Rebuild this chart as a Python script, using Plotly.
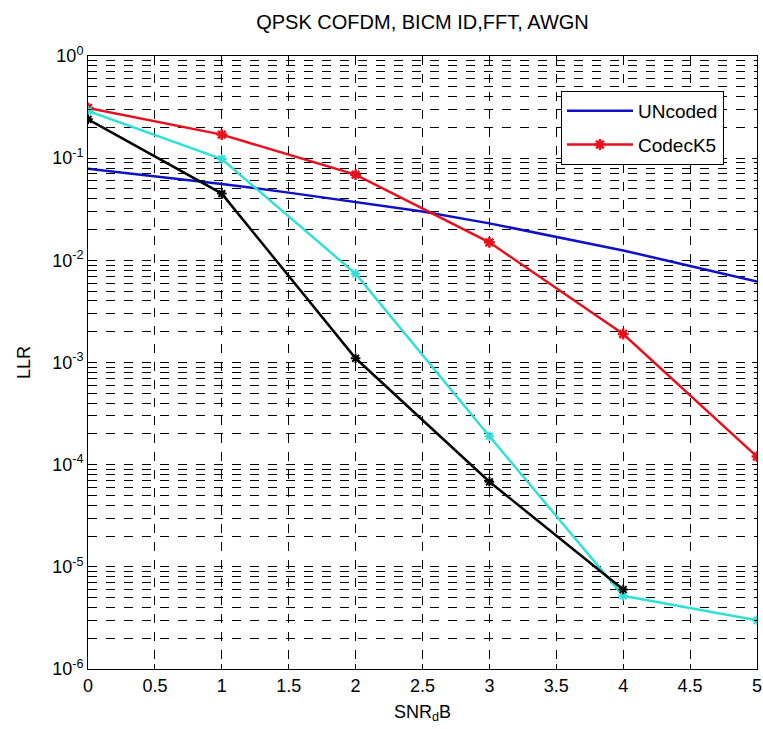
import plotly.graph_objects as go

snr_uncoded = [0, 0.5, 1, 1.5, 2, 2.5, 3, 3.5, 4, 4.5, 5]
ber_uncoded = [0.079, 0.067, 0.056, 0.046, 0.037, 0.030, 0.023, 0.017, 0.0125, 0.0088, 0.0062]

snr_k5 = [0, 1, 2, 3, 4, 5]
ber_k5 = [0.31, 0.17, 0.069, 0.015, 0.0019, 0.00012]

snr_cyan = [0, 1, 2, 3, 4, 5]
ber_cyan = [0.29, 0.098, 0.0074, 0.00019, 0.0000052, 0.0000030]

snr_black = [0, 1, 2, 3, 4]
ber_black = [0.24, 0.045, 0.0011, 0.000068, 0.0000060]

x_ticks = [0, 0.5, 1, 1.5, 2, 2.5, 3, 3.5, 4, 4.5, 5]
x_tick_text = ["0", "0.5", "1", "1.5", "2", "2.5", "3", "3.5", "4", "4.5", "5"]
y_ticks = [1, 1e-1, 1e-2, 1e-3, 1e-4, 1e-5, 1e-6]
y_tick_text = ["10<sup>0</sup>", "10<sup>-1</sup>", "10<sup>-2</sup>", "10<sup>-3</sup>",
               "10<sup>-4</sup>", "10<sup>-5</sup>", "10<sup>-6</sup>"]
minor_mult = [2, 3, 4, 5, 6, 7, 8, 9]
decades = [1e-6, 1e-5, 1e-4, 1e-3, 1e-2, 1e-1]

title_text = "QPSK COFDM, BICM ID,FFT, AWGN"
x_title = "SNR<sub>d</sub>B"
y_title = "LLR"

y_minor = [m * d for d in decades for m in minor_mult]

fig = go.Figure()
fig.add_trace(go.Scatter(x=snr_uncoded, y=ber_uncoded, mode="lines", name="UNcoded",
                         legendgroup="a",
                         line=dict(color="#1010c8", width=2.5)))
fig.add_trace(go.Scatter(x=snr_k5, y=ber_k5, mode="lines+markers", name="CodecK5",
                         legendgroup="b",
                         line=dict(color="#e8101c", width=2.5),
                         marker=dict(symbol="asterisk-open", size=9,
                                     line=dict(color="#e8101c", width=2.5))))
fig.add_trace(go.Scatter(x=snr_cyan, y=ber_cyan, mode="lines+markers", showlegend=False,
                         line=dict(color="#30e0d8", width=2.5),
                         marker=dict(symbol="asterisk-open", size=8,
                                     line=dict(color="#30e0d8", width=2))))
fig.add_trace(go.Scatter(x=snr_black, y=ber_black, mode="lines+markers", showlegend=False,
                         line=dict(color="black", width=2.5),
                         marker=dict(symbol="asterisk-open", size=8,
                                     line=dict(color="black", width=2))))

font_family = "Liberation Sans, Arial, sans-serif"

fig.update_layout(
    width=763, height=729,
    margin=dict(l=88, r=6, t=56, b=60, autoexpand=False),
    paper_bgcolor="white", plot_bgcolor="white",
    font=dict(family=font_family, size=18, color="black"),
    title=dict(text=title_text, x=0.5, xref="paper", xanchor="center",
               y=1 - 22 / 729, yref="container", yanchor="middle", font=dict(size=20)),
    showlegend=True,
    legend=dict(x=0.707, y=0.943, xanchor="left", yanchor="top",
                bgcolor="white", bordercolor="black", borderwidth=1,
                traceorder="grouped", tracegroupgap=6,
                itemwidth=66, font=dict(size=19)),
)

fig.update_xaxes(
    range=[0, 5], tickvals=x_ticks, ticktext=x_tick_text, automargin=False,
    showline=True, linecolor="black", linewidth=1, mirror="ticks",
    ticks="inside", ticklen=5, tickcolor="black",
    showgrid=True, gridcolor="black", griddash="dash", gridwidth=1,
    zeroline=False,
    title=dict(text=x_title, standoff=10, font=dict(size=18)),
)
fig.update_yaxes(
    type="log", range=[-6, 0], tickvals=y_ticks, ticktext=y_tick_text, automargin=False,
    showline=True, linecolor="black", linewidth=1, mirror="ticks",
    ticks="inside", ticklen=5, tickcolor="black",
    showgrid=True, gridcolor="black", griddash="dash", gridwidth=1,
    minor=dict(tickmode="array", tickvals=y_minor, showgrid=True, gridcolor="black",
               griddash="dash", gridwidth=1, ticks="inside", ticklen=3, tickcolor="black"),
    zeroline=False,
    title=dict(text=y_title, standoff=16, font=dict(size=18)),
)

fig.write_html("out.html", config={"displayModeBar": False},
               post_script="document.body.style.margin='0px';document.body.style.overflow='hidden';")
